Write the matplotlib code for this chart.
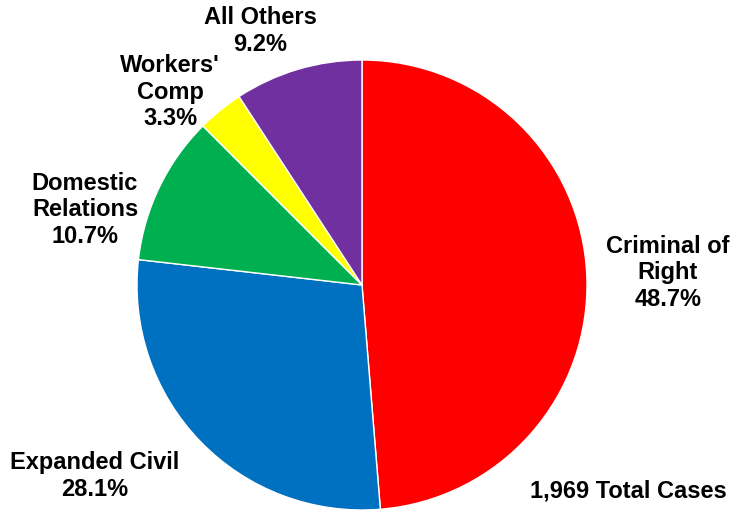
import matplotlib
matplotlib.use("Agg")
import matplotlib.pyplot as plt

categories = ["Criminal of Right", "Expanded Civil", "Domestic Relations",
              "Workers' Comp", "All Others"]
shares = [48.7, 28.1, 10.7, 3.3, 9.2]
colors = ["#FF0000", "#0070C0", "#00B050", "#FFFF00", "#7030A0"]
label_text = ["Criminal of\nRight", "Expanded Civil", "Domestic\nRelations",
              "Workers'\nComp", "All Others"]
total_cases = "1,969 Total Cases"

W, H = 733, 512
fig = plt.figure(figsize=(W / 100, H / 100), dpi=100)
fig.patch.set_facecolor("white")

cx, cy, r = 362, 285, 225
ax = fig.add_axes([(cx - r) / W, (H - cy - r) / H, 2 * r / W, 2 * r / H])

ax.pie(shares, colors=colors, startangle=90, counterclock=False, radius=1,
       wedgeprops=dict(edgecolor="white", linewidth=1.0))
ax.set_xlim(-1, 1)
ax.set_ylim(-1, 1)
ax.set_aspect("equal")
ax.axis("off")

# label anchor points in pixel space, converted to data coordinates
label_px = [(668, 273), (95, 476), (85, 210), (170, 92), (260, 31)]
font = dict(family=["Liberation Sans", "DejaVu Sans"], fontsize=17,
            fontweight="bold", color="black", ha="center", va="center",
            linespacing=1.18)
for txt, val, (px, py) in zip(label_text, shares, label_px):
    ax.text((px - cx) / r, (cy - py) / r, f"{txt}\n{val:.1f}%",
            clip_on=False, **font)

ax.text((628 - cx) / r, (cy - 491) / r, total_cases, clip_on=False, **font)

fig.savefig("out.png", dpi=100, facecolor="white")
